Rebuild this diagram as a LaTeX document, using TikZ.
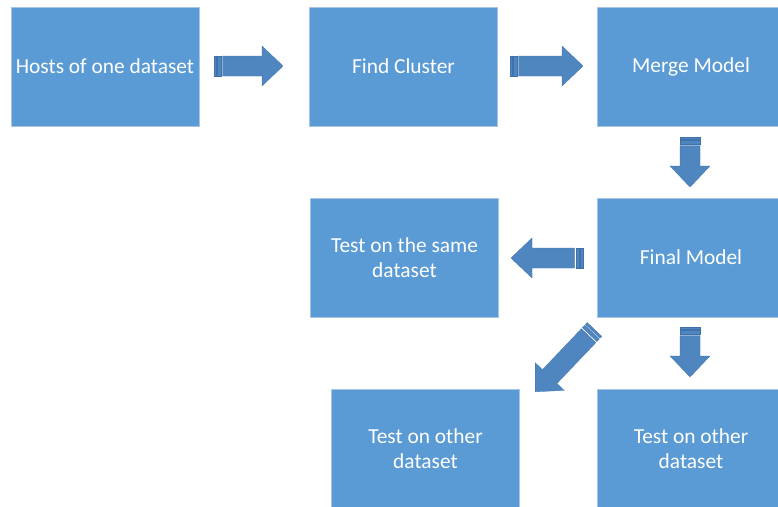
\documentclass[tikz,border=0pt]{standalone}
\usepackage{fontspec}
\setmainfont{Carlito}
\definecolor{boxblue}{HTML}{5B9BD5}
\definecolor{boxedge}{HTML}{A8C4E4}
\definecolor{arrowblue}{HTML}{4F86C0}
\definecolor{arrowedge}{HTML}{3F72AA}
\tikzset{
  stepbox/.style={rectangle, fill=boxblue, draw=boxedge, line width=0.6pt,
    minimum width=188pt, minimum height=119pt, inner sep=0pt,
    align=center, text=white,
    font=\fontsize{21.4}{24.8}\selectfont},
  % striped block arrow pointing along +x, tail at the origin; #1 = length
  pics/stripearrow/.style={code={
    \fill[arrowblue, draw=arrowedge, line width=0.3pt] (0,-10) rectangle (2.5,10);
    \fill[arrowblue, draw=arrowedge, line width=0.3pt] (3.5,-10) rectangle (7,10);
    \fill[arrowblue, draw=arrowedge, line width=0.3pt]
      (8.5,-10) -- (#1-21,-10) -- (#1-21,-20) -- (#1,0) -- (#1-21,20)
      -- (#1-21,10) -- (8.5,10) -- cycle;
  }}
}
\begin{document}
\begin{tikzpicture}[x=1pt, y=-1pt]
  \useasboundingbox (0,0) rectangle (778,506);
  \fill[white] (0,0) rectangle (778,506);

  % process boxes
  \node[stepbox] (hosts)  at (105,66.5)   {Hosts of one dataset};
  \node[stepbox] (find)   at (403.5,66.5) {Find Cluster};
  \node[stepbox] (merge)  at (691,66.5)   {Merge Model};
  \node[stepbox] (same)   at (404.5,257.5){Test on the same\\dataset};
  \node[stepbox] (final)  at (691,257.5)  {Final Model};
  \node[stepbox] (otherA) at (425.5,448.5){Test on other\\dataset};
  \node[stepbox] (otherB) at (691,448.5)  {Test on other\\dataset};

  % block arrows between the boxes
  \coordinate (a1) at (214,66);
  \coordinate (a2) at (510,66);
  \coordinate (a3) at (690,137);
  \coordinate (a4) at (583,258);
  \coordinate (a5) at (594.5,329.5);
  \coordinate (a6) at (690,327);
  \pic at (a1) {stripearrow=69};
  \pic at (a2) {stripearrow=73};
  \pic[rotate=-90] at (a3) {stripearrow=50};
  \pic[rotate=180] at (a4) {stripearrow=72};
  \pic[rotate=-133.6] at (a5) {stripearrow=86};
  \pic[rotate=-90] at (a6) {stripearrow=50};
\end{tikzpicture}
\end{document}
